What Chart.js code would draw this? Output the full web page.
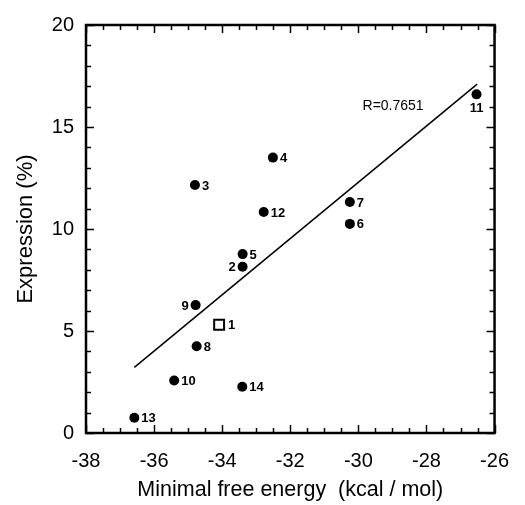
<!DOCTYPE html>
<html>
<head>
<meta charset="utf-8">
<script src="https://cdn.jsdelivr.net/npm/chart.js@4/dist/chart.umd.min.js"></script>
<style>
  html, body { margin: 0; padding: 0; background: #fff; }
  #wrap { width: 525px; height: 505px; }
</style>
</head>
<body>
<div id="wrap"><canvas id="chart"></canvas></div>
<script>
// construct ids, free energy (kcal/mol) and expression (%)
const ids = ['1', '2', '3', '4', '5', '6', '7', '8', '9', '10', '11', '12', '13', '14'];
const energy = [-34.09, -33.4, -34.8, -32.51, -33.4, -30.25, -30.25, -34.75, -34.78, -35.41, -26.53, -32.78, -36.58, -33.41];
const expression = [5.31, 8.15, 12.16, 13.5, 8.77, 10.25, 11.32, 4.25, 6.27, 2.57, 16.6, 10.83, 0.75, 2.27];
const openMarker = ['1'];

// regression line end points
const fitX = [-36.58, -26.51];
const fitY = [3.22, 17.1];
const rText = 'R=0.7651';
const rAt = [-28.98, 16.0];

const xTicks = [-38, -36, -34, -32, -30, -28, -26];
const yTicks = [0, 5, 10, 15, 20];

const FONT = '"Liberation Sans", Arial, Helvetica, sans-serif';

function pointsFor(keep) {
  const pts = [];
  ids.forEach((id, i) => {
    if (keep(id)) pts.push({ x: energy[i], y: expression[i], id: id });
  });
  return pts;
}

// label side for the few points that are not labelled on the right
const labelPlace = { '2': 'left', '9': 'left', '11': 'below' };

const frameAndLabels = {
  id: 'frameAndLabels',
  afterDatasetsDraw(chart) {
    const ctx = chart.ctx;
    const xs = chart.scales.x, ys = chart.scales.y;
    const a = chart.chartArea;

    // inward ticks on all four sides
    ctx.save();
    ctx.strokeStyle = '#000';
    ctx.lineWidth = 1.5;
    ctx.beginPath();
    for (let v = -38; v <= -26 + 1e-9; v += 0.5) {
      const px = Math.round(xs.getPixelForValue(v)) + 0.5;
      const len = Math.abs(v % 2) < 1e-9 ? 8 : 5;
      ctx.moveTo(px, a.bottom); ctx.lineTo(px, a.bottom - len);
      ctx.moveTo(px, a.top); ctx.lineTo(px, a.top + len);
    }
    for (let v = 0; v <= 20; v += 1) {
      const py = Math.round(ys.getPixelForValue(v)) + 0.5;
      const len = v % 5 === 0 ? 8 : 5;
      ctx.moveTo(a.left, py); ctx.lineTo(a.left + len, py);
      ctx.moveTo(a.right, py); ctx.lineTo(a.right - len, py);
    }
    ctx.stroke();
    ctx.lineWidth = 2.5;
    ctx.strokeRect(a.left, a.top, a.right - a.left, a.bottom - a.top);

    // point numbers
    ctx.fillStyle = '#000';
    ctx.font = 'bold 13px ' + FONT;
    chart.data.datasets.forEach((ds, di) => {
      if (!ds.isPoints) return;
      chart.getDatasetMeta(di).data.forEach((el, k) => {
        const id = ds.data[k].id;
        const side = labelPlace[id] || 'right';
        const off = ds.pointStyle === 'rect' ? 9 : 7;
        if (side === 'left') {
          ctx.textAlign = 'right'; ctx.textBaseline = 'middle';
          ctx.fillText(id, el.x - off, el.y + 1);
        } else if (side === 'below') {
          ctx.textAlign = 'center'; ctx.textBaseline = 'top';
          ctx.fillText(id, el.x, el.y + 8);
        } else {
          ctx.textAlign = 'left'; ctx.textBaseline = 'middle';
          ctx.fillText(id, el.x + off, el.y + 1);
        }
      });
    });

    // correlation text
    ctx.font = '14px ' + FONT;
    ctx.textAlign = 'center';
    ctx.textBaseline = 'middle';
    ctx.fillText(rText, xs.getPixelForValue(rAt[0]), ys.getPixelForValue(rAt[1]));
    ctx.restore();
  }
};

new Chart(document.getElementById('chart'), {
  type: 'scatter',
  data: {
    datasets: [
      {
        type: 'line',
        data: fitX.map((x, i) => ({ x: x, y: fitY[i] })),
        borderColor: '#000',
        borderWidth: 1.5,
        pointRadius: 0,
        fill: false
      },
      {
        isPoints: true,
        data: pointsFor(id => !openMarker.includes(id)),
        pointStyle: 'circle',
        pointRadius: 5,
        backgroundColor: '#000',
        borderColor: '#000',
        borderWidth: 0
      },
      {
        isPoints: true,
        data: pointsFor(id => openMarker.includes(id)),
        pointStyle: 'rect',
        pointRadius: 7,
        backgroundColor: '#fff',
        borderColor: '#000',
        borderWidth: 2
      }
    ]
  },
  options: {
    responsive: true,
    maintainAspectRatio: false,
    animation: false,
    devicePixelRatio: 1,
    layout: { padding: { top: 25, right: 30, left: 0, bottom: 0 } },
    plugins: { legend: { display: false }, tooltip: { enabled: false } },
    scales: {
      x: {
        type: 'linear',
        min: -38, max: -26,
        afterBuildTicks: s => { s.ticks = xTicks.map(v => ({ value: v })); },
        afterFit: s => { s.height = 72; },
        grid: { display: false, drawTicks: false },
        border: { display: false },
        ticks: { color: '#000', font: { family: FONT, size: 20 }, padding: 16, maxRotation: 0 },
        title: {
          display: true,
          text: 'Minimal free energy  (kcal / mol)',
          color: '#000',
          font: { family: FONT, size: 21.5 },
          padding: { top: 0, bottom: 2 }
        }
      },
      y: {
        type: 'linear',
        min: 0, max: 20,
        afterBuildTicks: s => { s.ticks = yTicks.map(v => ({ value: v })); },
        afterFit: s => { s.width = 86; },
        grid: { display: false, drawTicks: false },
        border: { display: false },
        ticks: { color: '#000', font: { family: FONT, size: 20 }, padding: 12 },
        title: {
          display: true,
          text: 'Expression (%)',
          color: '#000',
          font: { family: FONT, size: 22 },
          padding: { top: 13, bottom: 0 }
        }
      }
    }
  },
  plugins: [frameAndLabels]
});
</script>
</body>
</html>
